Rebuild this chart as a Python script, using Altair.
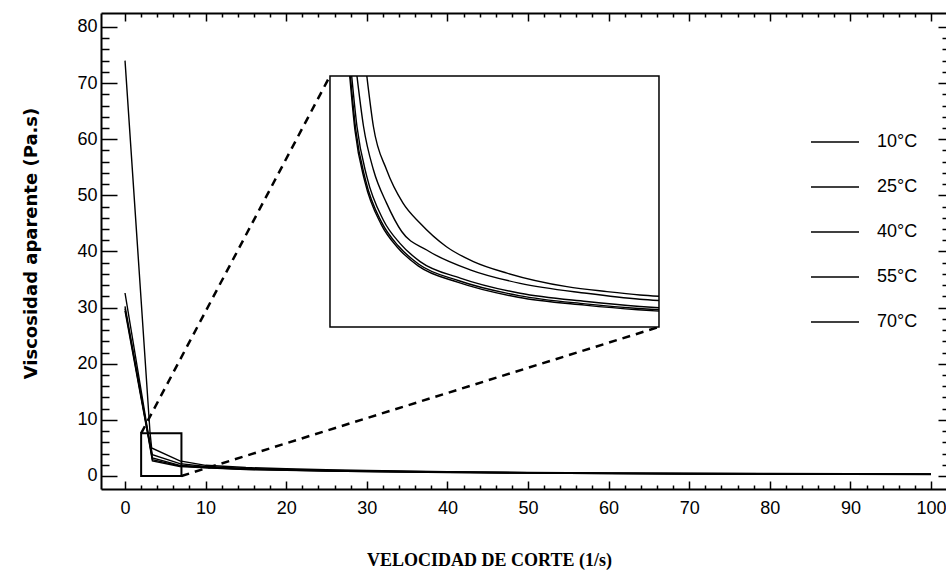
import altair as alt
import pandas as pd

# ---------------- data ----------------
series = ["10°C", "25°C", "40°C", "55°C", "70°C"]

# main curves: shear rate (1/s) and apparent viscosity (Pa.s)
x_10 = [0, 3.1, 3.3, 6.8, 10, 15, 20, 25, 30, 40, 50, 60, 70, 80, 90, 100]
y_10 = [74.0, 7.8, 5.0, 2.7, 1.9, 1.5, 1.3, 1.12, 0.98, 0.78, 0.64, 0.55, 0.48, 0.43, 0.39, 0.35]
x_25 = [0, 2.85, 3.4, 6.8, 10, 15, 20, 25, 30, 40, 50, 60, 70, 80, 90, 100]
y_25 = [32.6, 7.8, 3.8, 2.2, 1.7, 1.35, 1.15, 1.0, 0.9, 0.72, 0.6, 0.5, 0.44, 0.4, 0.36, 0.33]
x_40 = [0, 2.85, 3.4, 6.8, 10, 15, 20, 25, 30, 40, 50, 60, 70, 80, 90, 100]
y_40 = [30.2, 7.6, 3.2, 1.9, 1.55, 1.25, 1.08, 0.95, 0.85, 0.68, 0.56, 0.47, 0.41, 0.37, 0.33, 0.3]
x_55 = [0, 2.85, 3.4, 6.8, 10, 15, 20, 25, 30, 40, 50, 60, 70, 80, 90, 100]
y_55 = [29.8, 7.4, 2.9, 1.8, 1.5, 1.2, 1.04, 0.9, 0.8, 0.64, 0.52, 0.44, 0.38, 0.34, 0.31, 0.28]
x_70 = [0, 2.85, 3.4, 6.8, 10, 15, 20, 25, 30, 40, 50, 60, 70, 80, 90, 100]
y_70 = [29.4, 7.2, 2.7, 1.7, 1.45, 1.15, 1.0, 0.87, 0.77, 0.61, 0.5, 0.42, 0.36, 0.32, 0.29, 0.26]

# magnified curves shown in the inset (zoom window coordinates)
ix_10 = [2.56, 2.66, 2.86, 3.11, 3.37, 3.77, 4.18, 4.69, 5.60, 6.21, 6.71, 7.0]
iy_10 = [7.6, 6.07, 4.76, 3.75, 3.14, 2.43, 1.98, 1.63, 1.22, 1.07, 0.97, 0.93]
ix_25 = [2.41, 2.51, 2.66, 2.86, 3.09, 3.47, 4.13, 4.89, 5.90, 6.71, 7.0]
iy_25 = [7.6, 6.07, 4.76, 3.75, 2.89, 2.33, 1.73, 1.32, 1.02, 0.84, 0.80]
ix_40 = [2.33, 2.41, 2.56, 2.81, 3.06, 3.37, 3.98, 4.89, 5.90, 6.71, 7.0]
iy_40 = [7.6, 6.07, 4.55, 3.24, 2.54, 1.98, 1.48, 1.02, 0.77, 0.62, 0.58]
ix_55 = [2.31, 2.39, 2.54, 2.79, 3.04, 3.35, 3.96, 4.87, 5.88, 6.69, 7.0]
iy_55 = [7.6, 6.0, 4.45, 3.15, 2.45, 1.9, 1.4, 0.95, 0.7, 0.56, 0.52]
ix_70 = [2.30, 2.38, 2.53, 2.78, 3.03, 3.34, 3.95, 4.86, 5.87, 6.68, 7.0]
iy_70 = [7.6, 5.95, 4.4, 3.1, 2.4, 1.85, 1.35, 0.9, 0.66, 0.52, 0.48]

# zoom window (data units) and where its magnified copy sits (main data units)
box_x = [2.0, 7.0]
box_y = [0.0, 7.6]
inset_x = [25.43, 66.25]
inset_y = [26.55, 71.27]

x_labels = list(range(0, 101, 10))
y_labels = list(range(0, 81, 10))
x_ticks = list(range(0, 101, 2))
y_ticks = list(range(0, 81, 2))

# ---------------- tables ----------------
main_xs = [x_10, x_25, x_40, x_55, x_70]
main_ys = [y_10, y_25, y_40, y_55, y_70]
ins_xs = [ix_10, ix_25, ix_40, ix_55, ix_70]
ins_ys = [iy_10, iy_25, iy_40, iy_55, iy_70]

rows = []
for s, xs, ys in zip(series, main_xs, main_ys):
    for a, b in zip(xs, ys):
        rows.append({"serie": s, "x": a, "y": b})
df_main = pd.DataFrame(rows)

rows = []
for s, xs, ys in zip(series, ins_xs, ins_ys):
    for a, b in zip(xs, ys):
        rows.append({"serie": s, "x": a, "y": b})
df_ins = pd.DataFrame(rows)
# place magnified copy inside the inset frame
df_ins["xm"] = inset_x[0] + (df_ins["x"] - box_x[0]) / (box_x[1] - box_x[0]) * (inset_x[1] - inset_x[0])
df_ins["ym"] = inset_y[0] + (df_ins["y"] - box_y[0]) / (box_y[1] - box_y[0]) * (inset_y[1] - inset_y[0])

df_box = pd.DataFrame({"x0": [box_x[0]], "x1": [box_x[1]], "y0": [box_y[0]], "y1": [box_y[1]]})
df_inset = pd.DataFrame({"x0": [inset_x[0]], "x1": [inset_x[1]], "y0": [inset_y[0]], "y1": [inset_y[1]]})
df_dash = pd.DataFrame({
    "x0": [box_x[0], box_x[1]], "y0": [box_y[1], box_y[0]],
    "x1": [inset_x[0], inset_x[1]], "y1": [inset_y[1], inset_y[0]],
})

# ---------------- styling ----------------
W, H = 845, 476
NARROW = "Liberation Sans"
xs_scale = alt.Scale(domain=[-2.98, 101.86], nice=False, zero=False)
ys_scale = alt.Scale(domain=[-2.32, 82.49], nice=False, zero=False)

def cond(big, small):
    return {"condition": {"test": "datum.value % 10 === 0", "value": big}, "value": small}

ax_bottom = alt.Axis(
    orient="bottom", offset=0, values=x_labels, ticks=False, tickSize=0, grid=False,
    domain=True, domainColor="black", domainWidth=2,
    labelFont=NARROW, labelFontSize=18, labelColor="black", labelPadding=10,
    labelFlush=False, labelOverlap=False,
    title="VELOCIDAD DE CORTE (1/s)", titleFont="Liberation Serif", titleFontSize=18,
    titleFontWeight="bold", titleColor="black", titleX=388, titleY=71,
    titleAlign="center", titleBaseline="middle",
)
ax_left = alt.Axis(
    orient="left", offset=0, values=y_labels, ticks=False, tickSize=0, grid=False,
    domain=True, domainColor="black", domainWidth=2,
    labelFont=NARROW, labelFontSize=18, labelColor="black", labelPadding=4,
    labelFlush=False, labelOverlap=False,
    title="Viscosidad aparente (Pa.s)", titleFont="DejaVu Sans", titleFontSize=18,
    titleFontWeight="bold", titleColor="black", titleX=-70, titleY=230,
    titleAlign="center", titleBaseline="middle", titleAngle=270,
)
# inward ticks along the bottom edge (top-oriented axis moved down)
ax_in_bottom = alt.Axis(
    orient="top", offset=-H, values=x_ticks, labels=False, domain=False, grid=False,
    tickColor="black", tickWidth=1.5, tickSize=cond(8, 4), title=None,
)
# inward ticks along the left edge (right-oriented axis moved left)
ax_in_left = alt.Axis(
    orient="right", offset=-W, values=y_ticks, labels=False, domain=False, grid=False,
    tickColor="black", tickWidth=1.5, tickSize=cond(16, 8), title=None,
)
# top frame with downward ticks
ax_in_top = alt.Axis(
    orient="bottom", offset=-H, values=x_ticks, labels=False, grid=False,
    domain=True, domainColor="black", domainWidth=2,
    tickColor="black", tickWidth=1.5, tickSize=cond(8, 4), title=None,
)
# right edge ticks pointing left
ax_in_right = alt.Axis(
    orient="left", offset=-W, values=y_ticks, labels=False, domain=False, grid=False,
    tickColor="black", tickWidth=1.5, tickSize=cond(8, 4), title=None,
)

color_enc = alt.Color(
    "serie:N",
    scale=alt.Scale(domain=series, range=["black"] * 5),
    legend=alt.Legend(
        title=None, orient="none", legendX=709, legendY=119, padding=0,
        symbolType="stroke", symbolSize=2304, symbolStrokeWidth=1.6,
        symbolStrokeColor="black", clipHeight=20, rowPadding=25,
        labelFont=NARROW, labelFontSize=18, labelColor="black", labelOffset=17,
    ),
)

main_lines = alt.Chart(df_main).mark_line(strokeWidth=1.4).encode(
    x=alt.X("x:Q", scale=xs_scale, axis=ax_bottom),
    y=alt.Y("y:Q", scale=ys_scale, axis=ax_left),
    color=color_enc,
)

box = alt.Chart(df_box).mark_rect(fillOpacity=0, stroke="black", strokeWidth=2).encode(
    x=alt.X("x0:Q", scale=xs_scale, axis=ax_in_bottom),
    x2="x1:Q",
    y=alt.Y("y0:Q", scale=ys_scale, axis=ax_in_left),
    y2="y1:Q",
)

dashed = alt.Chart(df_dash).mark_rule(strokeDash=[8, 6], strokeWidth=2.5, color="black").encode(
    x=alt.X("x0:Q", scale=xs_scale, axis=ax_in_top),
    y=alt.Y("y0:Q", scale=ys_scale, axis=ax_in_right),
    x2="x1:Q",
    y2="y1:Q",
)

inset_frame = alt.Chart(df_inset).mark_rect(fill="white", stroke="black", strokeWidth=1.5).encode(
    x=alt.X("x0:Q", scale=xs_scale, axis=None),
    x2="x1:Q",
    y=alt.Y("y0:Q", scale=ys_scale, axis=None),
    y2="y1:Q",
)

inset_lines = alt.Chart(df_ins).mark_line(strokeWidth=1.4, interpolate="monotone").encode(
    x=alt.X("xm:Q", scale=xs_scale, axis=None),
    y=alt.Y("ym:Q", scale=ys_scale, axis=None),
    color=alt.Color("serie:N", scale=alt.Scale(domain=series, range=["black"] * 5), legend=None),
    order="x:Q",
)

chart = (
    alt.layer(main_lines, box, dashed, inset_frame, inset_lines)
    .resolve_axis(x="independent", y="independent")
    .properties(
        width=W, height=H,
        autosize=alt.AutoSizeParams(type="none"),
        padding={"left": 101, "top": 13, "right": 0, "bottom": 82},
        background="white",
    )
    .configure_view(stroke=None)
)

chart.save("out.html", embed_options={"renderer": "svg", "actions": False})
